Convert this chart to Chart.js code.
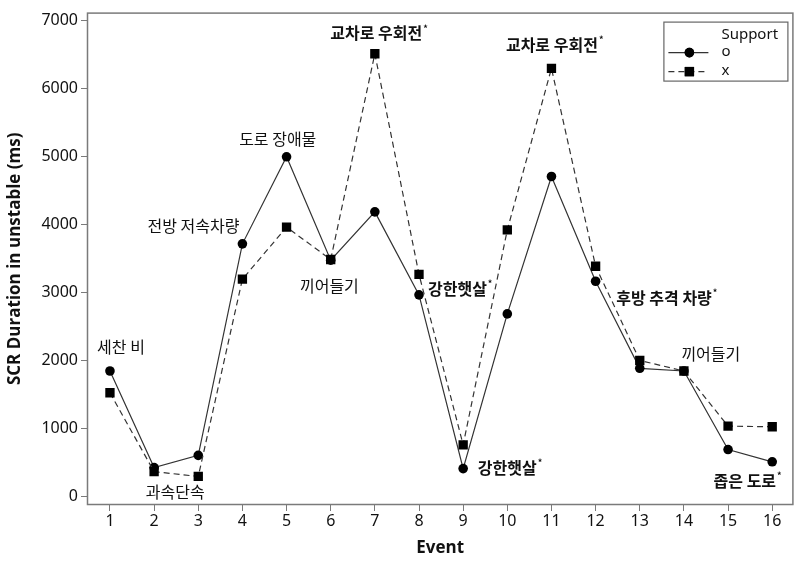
<!DOCTYPE html>
<html>
<head>
<meta charset="utf-8">
<script src="https://cdn.jsdelivr.net/npm/chart.js@4.4.1/dist/chart.umd.min.js"></script>
<style>
  html, body { margin: 0; padding: 0; background: #fff; }
</style>
</head>
<body>
<canvas id="myChart" width="800" height="562"></canvas>
<script>
// values
const events = [1, 2, 3, 4, 5, 6, 7, 8, 9, 10, 11, 12, 13, 14, 15, 16]
const supportO = [1850, 430, 610, 3720, 5000, 3480, 4190, 2970, 415, 2690, 4710, 3170, 1890, 1850, 695, 515]
const supportX = [1530, 370, 300, 3200, 3965, 3490, 6515, 3270, 765, 3925, 6300, 3390, 2005, 1850, 1040, 1030]
const yTicks = [0, 1000, 2000, 3000, 4000, 5000, 6000, 7000]
const seriesNames = ['o', 'x']

// event labels: text, event, value, starred
const noteText = ['세찬 비', '과속단속', '전방 저속차량', '도로 장애물', '끼어들기', '교차로 우회전', '강한햇살',
    '강한햇살', '교차로 우회전', '후방 추격 차량', '끼어들기', '좁은 도로']
const noteX = [1.25, 2.48, 2.89, 4.8, 5.97, 7.03, 8.87, 10.0, 11.01, 13.55, 14.61, 15.38]
const noteY = [2200, 67, 3990, 5265, 3105, 6815, 3062, 430, 6643, 2923, 2100, 239]
const noteStar = [false, false, false, false, false, true, true, true, true, true, false, true]

const ctx = document.getElementById('myChart').getContext('2d');
const grey = '#7a7a7a'
const krFont = '"Noto Sans CJK KR", "Noto Sans", sans-serif'

function pts(vals) {
    return events.map((e, i) => ({ x: e, y: vals[i] }))
}

const frame = {
    id: 'frame',
    afterDraw(chart) {
        const a = chart.chartArea
        const c = chart.ctx
        c.save()
        c.strokeStyle = grey
        c.lineWidth = 1.5
        c.strokeRect(a.left + 0.5, a.top + 0.5, a.right - a.left - 1, a.bottom - a.top - 1)

        // legend box
        const bx = a.right - 130, by = a.top + 9, bw = 124, bh = 59
        c.lineWidth = 1.2
        c.strokeStyle = '#666'
        c.strokeRect(bx + 0.5, by + 0.5, bw, bh)
        c.fillStyle = '#111'
        c.font = '15px "Noto Sans", sans-serif'
        c.textBaseline = 'middle'
        c.textAlign = 'left'
        c.fillText('Support', bx + 58, by + 13)
        chart.data.datasets.forEach((ds, i) => {
            const ly = by + 31 + i * 19
            c.strokeStyle = ds.borderColor
            c.lineWidth = ds.borderWidth
            c.setLineDash(ds.borderDash || [])
            c.beginPath()
            c.moveTo(bx + 5, ly)
            c.lineTo(bx + 45, ly)
            c.stroke()
            c.setLineDash([])
            Chart.helpers.drawPoint(c, { pointStyle: ds.pointStyle, radius: ds.pointRadius, borderWidth: 0 }, bx + 26, ly)
            c.fillStyle = '#000'
            c.fill()
            c.fillStyle = '#111'
            c.fillText(ds.label, bx + 58, ly - 1)
        })
        c.restore()
    }
}

const notes = {
    id: 'notes',
    afterDatasetsDraw(chart) {
        const c = chart.ctx
        const sx = chart.scales.x, sy = chart.scales.y
        c.save()
        c.fillStyle = '#111'
        c.textBaseline = 'middle'
        for (let i = 0; i < noteText.length; i++) {
            const px = sx.getPixelForValue(noteX[i])
            const py = sy.getPixelForValue(noteY[i])
            c.textAlign = 'center'
            c.font = (noteStar[i] ? 'bold ' : '') + '16px ' + krFont
            c.fillText(noteText[i], px, py)
            if (noteStar[i]) {
                const w = c.measureText(noteText[i]).width
                c.textAlign = 'left'
                c.font = 'bold 9px ' + krFont
                c.fillText('*', px + w / 2 + 1, py - 5)
            }
        }
        c.restore()
    }
}

const myChart = new Chart(ctx, {
    type: 'line',
    data: {
        datasets: [{
            label: seriesNames[0],
            data: pts(supportO),
            borderColor: '#333',
            borderWidth: 1.2,
            pointStyle: 'circle',
            pointRadius: 4.8,
            pointBackgroundColor: '#000',
            pointBorderWidth: 0,
            order: 1
        }, {
            label: seriesNames[1],
            data: pts(supportX),
            borderColor: '#333',
            borderWidth: 1.2,
            borderDash: [6, 4],
            pointStyle: 'rect',
            pointRadius: 6.6,
            pointBackgroundColor: '#000',
            pointBorderWidth: 0,
            order: 0
        }]
    },
    options: {
        responsive: false,
        animation: false,
        layout: { padding: { top: 1, right: 2, left: 0, bottom: 0 } },
        plugins: {
            legend: { display: false },
            tooltip: { enabled: false }
        },
        scales: {
            x: {
                type: 'linear',
                min: 0.48,
                max: 16.48,
                afterBuildTicks: s => { s.ticks = events.map(v => ({ value: v })) },
                afterFit: s => { s.height = 57 },
                grid: { drawOnChartArea: false, drawTicks: true, tickLength: 6, color: grey },
                border: { display: false },
                ticks: { color: '#111', padding: 1, maxRotation: 0, font: { family: 'Noto Sans', size: 16 },
                    callback: v => String(v) },
                title: { display: true, text: 'Event', color: '#111', padding: { top: 4, bottom: 4 },
                    font: { family: 'Open Sans', size: 17, weight: 'bold' } }
            },
            y: {
                min: -120,
                max: 7120,
                afterBuildTicks: s => { s.ticks = yTicks.map(v => ({ value: v })) },
                afterFit: s => { s.width = 87 },
                grid: { drawOnChartArea: false, drawTicks: true, tickLength: 6, color: grey },
                border: { display: false },
                ticks: { color: '#111', padding: 3, font: { family: 'Noto Sans', size: 16 },
                    callback: v => String(v) },
                title: { display: true, text: 'SCR Duration in unstable (ms)', color: '#111', padding: { top: 5, bottom: 4 },
                    font: { family: 'Open Sans', size: 17, weight: 'bold' } }
            }
        }
    },
    plugins: [notes, frame]
});
</script>
</body>
</html>
